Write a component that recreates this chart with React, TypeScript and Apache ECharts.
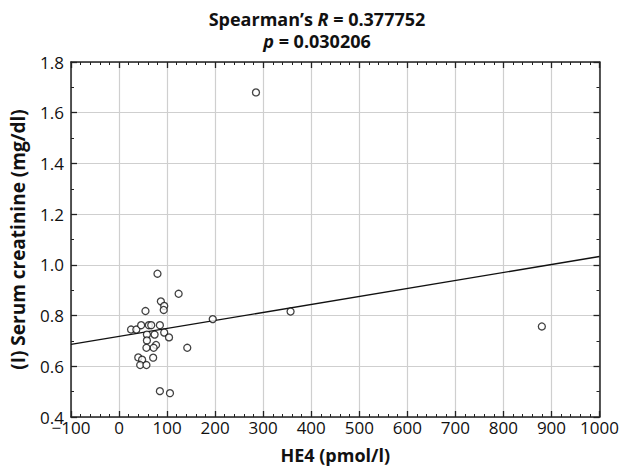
import React, { useEffect, useRef } from "react";
import * as echarts from "echarts";

// HE4 (pmol/l) vs serum creatinine (mg/dl)
const he4: number[] = [
  80, 124, 87, 94, 93, 55, 195, 25, 36, 46, 62, 67, 85, 58, 74, 94, 104, 58,
  77, 72, 57, 142, 40, 48, 71, 44, 57, 85, 106, 357, 285, 880,
];
const creatinine: number[] = [
  0.965, 0.886, 0.856, 0.838, 0.822, 0.818, 0.786, 0.745, 0.745, 0.762, 0.762,
  0.762, 0.762, 0.725, 0.725, 0.733, 0.714, 0.702, 0.684, 0.673, 0.673, 0.673,
  0.635, 0.626, 0.634, 0.605, 0.605, 0.502, 0.494, 0.816, 1.68, 0.757,
];
// regression line end points
const fitX: number[] = [-100, 1000];
const fitY: number[] = [0.686, 1.033];

const xTicks = { min: -100, max: 1000, interval: 100 };
const yTicks = { min: 0.4, max: 1.8, interval: 0.2 };

const FONT = "'Open Sans', 'Noto Sans', sans-serif";

export default function App() {
  const ref = useRef<HTMLDivElement>(null);
  useEffect(() => {
    if (!ref.current) return;
    const chart = echarts.init(ref.current, null, { renderer: "svg" });
    const points = he4.map((x, i) => [x, creatinine[i]]);
    const line = fitX.map((x, i) => [x, fitY[i]]);
    const axisLine = { show: true, onZero: false, lineStyle: { color: "#222", width: 1.5 } };
    const tickCommon = { show: true, inside: true, length: 6, lineStyle: { color: "#222", width: 1.3 } };
    const minorX = { show: true, splitNumber: 5, length: 3, lineStyle: { color: "#222", width: 1 } };
    const minorY = { show: true, splitNumber: 2, length: 3, lineStyle: { color: "#222", width: 1 } };
    const rich = {
      b: { fontFamily: FONT, fontWeight: "bold", fontSize: 18, lineHeight: 20, fill: "#111" },
      bi: { fontFamily: FONT, fontWeight: "bold", fontStyle: "italic", fontSize: 18, lineHeight: 20, fill: "#111" },
    };
    chart.setOption({
      animation: false,
      backgroundColor: "#fff",
      grid: { left: 71, right: 22.5, top: 62, bottom: 49.5, containLabel: false },
      graphic: [
        {
          type: "text",
          x: 317,
          y: 19,
          style: { text: "{b|Spearman\u2019s }{bi|R}{b| = 0.377752}", align: "center", verticalAlign: "middle", rich },
        },
        {
          type: "text",
          x: 317,
          y: 41,
          style: { text: "{bi|p}{b| = 0.030206}", align: "center", verticalAlign: "middle", rich },
        },
      ],
      xAxis: [
        {
          type: "value",
          ...xTicks,
          position: "bottom",
          name: "HE4 (pmol/l)",
          nameLocation: "middle",
          nameGap: 29,
          nameTextStyle: { fontFamily: FONT, fontWeight: "bold", fontSize: 18, color: "#111" },
          axisLine,
          axisTick: tickCommon,
          minorTick: minorX,
          splitLine: { show: true, lineStyle: { color: "#cfcfcf", width: 1.2 } },
          axisLabel: {
            fontFamily: FONT,
            fontSize: 17,
            color: "#111",
            margin: 2,
            formatter: (v: number) => String(v).replace("-", "\u2212"),
          },
        },
        {
          type: "value",
          ...xTicks,
          position: "top",
          axisLine,
          axisTick: tickCommon,
          minorTick: minorX,
          splitLine: { show: false },
          axisLabel: { show: false },
        },
      ],
      yAxis: [
        {
          type: "value",
          ...yTicks,
          position: "left",
          name: "(I) Serum creatinine (mg/dl)",
          nameLocation: "middle",
          nameGap: 44,
          nameTextStyle: { fontFamily: FONT, fontWeight: "bold", fontSize: 19, color: "#111" },
          axisLine,
          axisTick: tickCommon,
          minorTick: minorY,
          splitLine: { show: true, lineStyle: { color: "#cfcfcf", width: 1.2 } },
          axisLabel: {
            fontFamily: FONT,
            fontSize: 17,
            color: "#111",
            margin: 7,
            formatter: (v: number) => v.toFixed(1),
          },
        },
        {
          type: "value",
          ...yTicks,
          position: "right",
          axisLine,
          axisTick: tickCommon,
          minorTick: minorY,
          splitLine: { show: false },
          axisLabel: { show: false },
        },
      ],
      series: [
        {
          type: "line",
          data: line,
          showSymbol: false,
          symbol: "none",
          lineStyle: { color: "#111", width: 1.3 },
          z: 2,
        },
        {
          type: "scatter",
          data: points,
          symbol: "circle",
          symbolSize: 7,
          itemStyle: { color: "#fff", borderColor: "#111", borderWidth: 1.3 },
          z: 3,
        },
      ],
    });
    return () => chart.dispose();
  }, []);
  return (
    <div
      ref={ref}
      style={{ width: 622, height: 469, position: "fixed", left: 0, top: 0 }}
    />
  );
}
